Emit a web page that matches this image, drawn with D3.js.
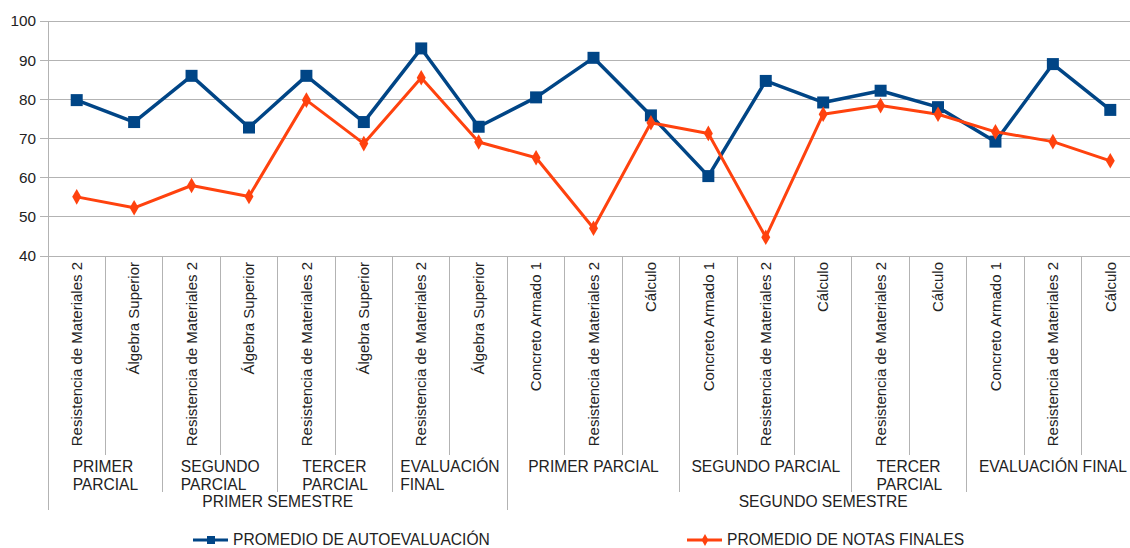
<!DOCTYPE html>
<html>
<head>
<meta charset="utf-8">
<script src="https://cdn.jsdelivr.net/npm/d3@7"></script>
<style>
  html, body { margin: 0; padding: 0; background: #fff; }
  svg { display: block; font-family: "Liberation Sans", Arial, sans-serif; }
</style>
</head>
<body>
<svg id="chart" width="1130" height="548"></svg>
<script>
const categories = [
  "Resistencia de Materiales 2", "Álgebra Superior",
  "Resistencia de Materiales 2", "Álgebra Superior",
  "Resistencia de Materiales 2", "Álgebra Superior",
  "Resistencia de Materiales 2", "Álgebra Superior",
  "Concreto Armado 1", "Resistencia de Materiales 2", "Cálculo",
  "Concreto Armado 1", "Resistencia de Materiales 2", "Cálculo",
  "Resistencia de Materiales 2", "Cálculo",
  "Concreto Armado 1", "Resistencia de Materiales 2", "Cálculo"
];
const groupLabels = ["PRIMER PARCIAL", "SEGUNDO PARCIAL", "TERCER PARCIAL", "EVALUACIÓN FINAL",
                     "PRIMER PARCIAL", "SEGUNDO PARCIAL", "TERCER PARCIAL", "EVALUACIÓN FINAL"];
const groupSizes = [2, 2, 2, 2, 3, 3, 2, 3];
const semesterLabels = ["PRIMER SEMESTRE", "SEGUNDO SEMESTRE"];
const semesterSizes = [8, 11];

const seriesNames = ["PROMEDIO DE AUTOEVALUACIÓN", "PROMEDIO DE NOTAS FINALES"];
const autoevaluacion = [79.8, 74.2, 86.0, 72.8, 86.0, 74.2, 93.0, 73.0, 80.5, 90.6, 75.9,
                        60.4, 84.7, 79.2, 82.2, 78.0, 69.2, 89.0, 77.3];
const notasFinales = [55.1, 52.3, 58.0, 55.2, 79.8, 68.7, 85.5, 69.1, 65.1, 47.1, 74.0,
                      71.3, 44.8, 76.2, 78.4, 76.2, 71.7, 69.2, 64.3];
const yTicks = [40, 50, 60, 70, 80, 90, 100];
const colors = ["#004586", "#ff420e"];

(function () {
const svg = d3.select("#chart");
const pLeft = 48, pRight = 1139, pTop = 21, pBottom = 256;
const FS = 15;
const FSH = 15.6;
const textColor = "#222";
const gridColor = "#b3b3b3";

const x = d3.scaleBand().domain(d3.range(categories.length)).range([pLeft, pRight]).padding(0);
const y = d3.scaleLinear().domain([40, 100]).range([pBottom, pTop]);

// gridlines
svg.append("g").selectAll("line").data(yTicks).join("line")
  .attr("x1", pLeft - 8).attr("x2", pRight)
  .attr("y1", d => y(d)).attr("y2", d => y(d))
  .attr("stroke", gridColor).attr("stroke-width", 1).attr("shape-rendering", "crispEdges");

// y axis
const yAxis = d3.axisLeft(y).tickValues(yTicks).tickSize(0).tickPadding(12);
const ya = svg.append("g").attr("transform", `translate(${pLeft},0)`).call(yAxis);
ya.select(".domain").attr("stroke", gridColor).attr("shape-rendering", "crispEdges");
ya.selectAll("text").attr("font-size", 15.3).attr("fill", textColor)
  .attr("font-family", "'Liberation Sans', Arial, sans-serif");

// category separators
const sepLines = svg.append("g");
const catBounds = d3.range(categories.length + 1).map(i => i < categories.length ? x(i) : pRight);
let gb = [0]; groupSizes.forEach(s => gb.push(gb[gb.length - 1] + s));
let sb = [0]; semesterSizes.forEach(s => sb.push(sb[sb.length - 1] + s));
catBounds.forEach((bx, i) => {
  let y2 = 455;
  if (gb.includes(i)) y2 = 492;
  if (sb.includes(i)) y2 = 510;
  sepLines.append("line").attr("x1", bx).attr("x2", bx).attr("y1", pBottom).attr("y2", y2)
    .attr("stroke", gridColor).attr("stroke-width", 1).attr("shape-rendering", "crispEdges");
});

// category labels (rotated)
svg.append("g").selectAll("text").data(categories).join("text")
  .attr("transform", (d, i) => `translate(${x(i) + x.bandwidth() / 2},${pBottom + 6}) rotate(-90)`)
  .attr("text-anchor", "end").attr("dy", "0.35em")
  .attr("font-size", FS).attr("fill", textColor)
  .text(d => d);

// group labels
const gl = svg.append("g");
groupLabels.forEach((lab, gi) => {
  const x0 = catBounds[gb[gi]], x1 = catBounds[gb[gi + 1]];
  const cx = (x0 + x1) / 2, w = x1 - x0;
  const t = gl.append("text").attr("font-size", FSH).attr("fill", textColor).text(lab);
  const full = t.node().getComputedTextLength();
  if (full <= w - 10) {
    t.attr("x", cx).attr("y", 472).attr("text-anchor", "middle");
  } else {
    t.text(null);
    const words = lab.split(" ");
    const tmp = words.map(wd => {
      const tt = gl.append("text").attr("font-size", FSH).text(wd);
      const l = tt.node().getComputedTextLength(); tt.remove(); return l;
    });
    const maxW = d3.max(tmp);
    words.forEach((wd, k) => {
      t.append("tspan").attr("x", cx - maxW / 2).attr("y", 472 + k * 18).text(wd);
    });
  }
});

// semester labels
semesterLabels.forEach((lab, si) => {
  const x0 = catBounds[sb[si]], x1 = catBounds[sb[si + 1]];
  svg.append("text").attr("x", (x0 + x1) / 2).attr("y", 507).attr("text-anchor", "middle")
    .attr("font-size", FSH).attr("fill", textColor).text(lab);
});

// lines
const series = [autoevaluacion, notasFinales];
const line = d3.line().x((d, i) => x(i) + x.bandwidth() / 2).y(d => y(d));
series.forEach((vals, si) => {
  svg.append("path").datum(vals).attr("d", line).attr("fill", "none")
    .attr("stroke", colors[si]).attr("stroke-width", si === 0 ? 3.5 : 3)
    .attr("stroke-linejoin", "round");
});
// markers
const sq = d3.symbol().type(d3.symbolSquare).size(144);
const dm = d3.symbol().type(d3.symbolDiamond).size(70);
svg.append("g").selectAll("path").data(autoevaluacion).join("path")
  .attr("d", sq).attr("fill", colors[0])
  .attr("transform", (d, i) => `translate(${x(i) + x.bandwidth() / 2},${y(d)})`);
svg.append("g").selectAll("path").data(notasFinales).join("path")
  .attr("d", dm).attr("fill", colors[1])
  .attr("transform", (d, i) => `translate(${x(i) + x.bandwidth() / 2},${y(d)})`);

// legend
const legendX = [193, 687];
seriesNames.forEach((nm, si) => {
  const g = svg.append("g").attr("transform", `translate(${legendX[si]},540)`);
  g.append("line").attr("x1", 0).attr("x2", 35).attr("y1", 0).attr("y2", 0)
    .attr("stroke", colors[si]).attr("stroke-width", 3);
  g.append("path").attr("d", si === 0 ? d3.symbol().type(d3.symbolSquare).size(64)() : d3.symbol().type(d3.symbolDiamond).size(40)())
    .attr("fill", colors[si]).attr("transform", "translate(18,0)");
  g.append("text").attr("x", 40).attr("y", 0).attr("dy", "0.35em")
    .attr("font-size", FSH).attr("fill", textColor).text(nm);
});
})();
</script>
</body>
</html>
